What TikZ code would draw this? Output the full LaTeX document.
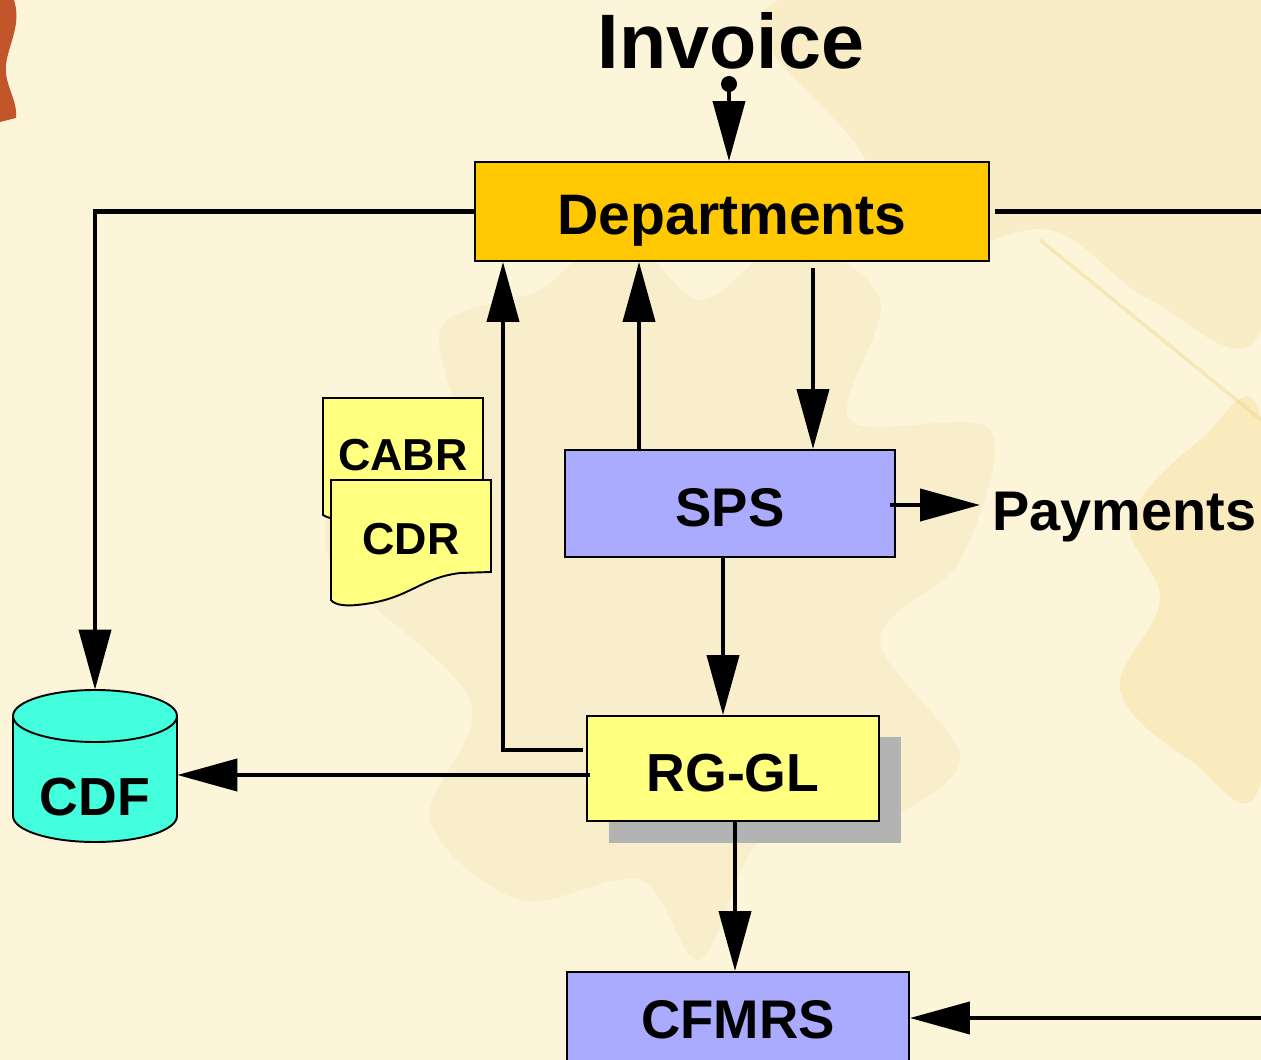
\documentclass[tikz,border=0pt]{standalone}
\usepackage{fontspec}
\setmainfont{Liberation Sans}
\usetikzlibrary{arrows.meta}
\definecolor{paper}{HTML}{FDF5DA}
\definecolor{leaftan}{HTML}{F1DCA0}
\definecolor{leafgold}{HTML}{F0D480}
\definecolor{leafred}{HTML}{C2552A}
\definecolor{deptfill}{HTML}{FFC800}
\definecolor{lavender}{HTML}{AAAAFF}
\definecolor{paleyellow}{HTML}{FFFF80}
\definecolor{aqua}{HTML}{44FFDD}
\definecolor{shadowgrey}{HTML}{B3B3B3}
\begin{document}
\begin{tikzpicture}[x=0.02cm,y=-0.02cm,
  % text boxes are centred on the capitals, slightly below the middle
  label/.style={font=\bfseries\fontsize{31}{31}\selectfont, inner sep=0pt,
                text height=26.5pt, text depth=0pt},
  bigtext/.style={font=\bfseries\fontsize{44}{44}\selectfont, inner sep=0pt,
                text height=31.5pt, text depth=0pt},
  doctext/.style={font=\bfseries\fontsize{25.5}{26}\selectfont, inner sep=0pt,
                text height=18.3pt, text depth=0pt},
  box/.style={label, draw=black, line width=1.1pt},
  link/.style={line width=2.3pt},
  arr/.style={link, -{Triangle[length=1.2cm,width=0.64cm]}},
]
\useasboundingbox (0,0) rectangle (1261,1060);
\clip (0,0) rectangle (1261,1060);

% paper and faded leaves behind the chart
\fill[paper] (0,0) rectangle (1261,1060);
\fill[leaftan, opacity=0.25] plot[smooth cycle, tension=0.55] coordinates {
  (700,960) (640,880) (520,900) (430,820) (470,700) (330,560) (360,460)
  (470,470) (440,330) (540,290) (620,230) (700,300) (790,240) (880,300)
  (850,420) (990,430) (960,560) (880,640) (960,760) (860,830) (760,840)};
\fill[leaftan, opacity=0.3] plot[smooth cycle, tension=0.6] coordinates {
  (780,0) (1261,0) (1261,330) (1150,300) (1050,230) (930,250) (860,150)};
\fill[leafgold, opacity=0.3] plot[smooth cycle, tension=0.6] coordinates {
  (1261,420) (1200,440) (1130,520) (1160,600) (1120,690) (1190,760)
  (1261,780)};
\draw[leafgold, opacity=0.4, line width=2pt] (1040,240) -- (1261,420);
\fill[leafred] (0,0) -- (14,0) .. controls (22,25) and (8,45) .. (6,65)
  .. controls (4,85) and (18,100) .. (16,118) -- (0,122) -- cycle;

% process boxes
\fill[shadowgrey] (609,737) rectangle (901,843);
\node[box, fill=deptfill, minimum width=10.28cm, minimum height=1.98cm,
  font=\bfseries\fontsize{32.5}{32.5}\selectfont]
  (dept) at (732,211.5) {Departments};
\node[box, fill=lavender, minimum width=6.6cm, minimum height=2.14cm]
  (sps) at (730,503.5) {SPS};
\node[box, fill=paleyellow, minimum width=5.84cm, minimum height=2.1cm,
  font=\bfseries\fontsize{30.5}{30.5}\selectfont]
  (rggl) at (733,768.5) {RG-GL};
% this box runs on below the lower edge of the sheet
\node[box, fill=lavender, minimum width=6.84cm, minimum height=2.3cm,
  text depth=15.7pt]
  (cfmrs) at (738,1029.5) {CFMRS};

% report documents
\filldraw[fill=paleyellow, draw=black, line width=1.1pt]
  (323,398) -- (483,398) -- (483,490)
  .. controls (420,495) and (390,505) .. (360,515)
  .. controls (345,520) and (330,520) .. (323,515) -- cycle;
\filldraw[fill=paleyellow, draw=black, line width=1.1pt]
  (331,480) -- (491,480) -- (491,572) -- (460,573)
  .. controls (420,578) and (410,598) .. (365,604)
  .. controls (345,607) and (335,605) .. (331,600) -- cycle;
\node[doctext] (cabr) at (403,454.5) {CABR};
\node[doctext] (cdr) at (411,538.5) {CDR};

% data file cylinder
\node[minimum width=3.28cm, minimum height=3.04cm, inner sep=0pt]
  (cdf) at (95,766) {};
\filldraw[fill=aqua, draw=black, line width=1.1pt]
  (13,716) -- (13,816) arc[start angle=180, end angle=360, x radius=82, y radius=-26]
  -- (177,716) arc[start angle=0, end angle=180, x radius=82, y radius=-26] -- cycle;
\draw[line width=1.1pt] (13,716) arc[start angle=180, end angle=360, x radius=82, y radius=-26];
\node[label, font=\bfseries\fontsize{30.5}{30.5}\selectfont] (cdftext) at (95,792) {CDF};

% free labels
\node[bigtext] (invoice) at (731,41) {Invoice};
\node[label, anchor=west, font=\bfseries\fontsize{31.8}{31.8}\selectfont]
  (pay) at (992,507) {Payments};
\coordinate (invdot) at (729,84);

% connectors
\fill (invdot) circle (0.16cm);
\draw[arr] (invdot) -- (729,0 |- dept.north);
\draw[arr] (dept.west) -| (cdf.north);
\draw[link] (995,0 |- dept.east) -- (1261,0 |- dept.east);
\draw[arr] (583,750) -| (503,0 |- dept.south);
\draw[arr] (639,0 |- sps.north) -- (639,0 |- dept.south);
\draw[arr] (813,268) -- (813,0 |- sps.north);
\draw[arr] (890,505) -- (980,505);
\draw[arr] (723,0 |- sps.south) -- (723,0 |- rggl.north);
\draw[arr] (590,775) -- (cdf.east |- 0,775);
\draw[arr] (735,0 |- rggl.south) -- (735,0 |- cfmrs.north);
\draw[arr] (1261,1018) -- (cfmrs.east |- 0,1018);
\end{tikzpicture}
\end{document}
